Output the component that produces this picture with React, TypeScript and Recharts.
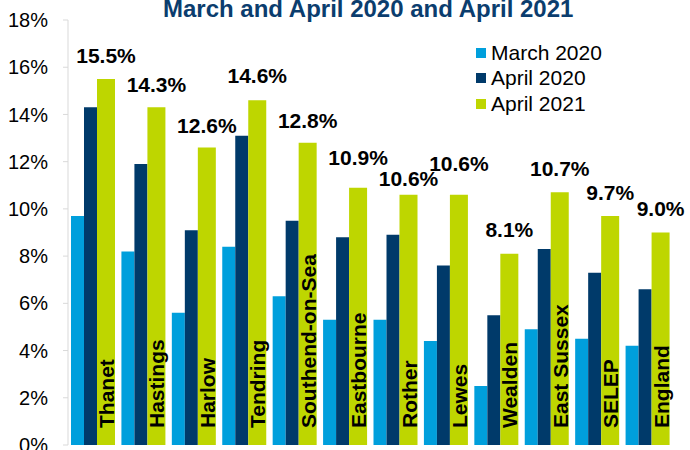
import { Bar, BarChart, LabelList, Legend, XAxis, YAxis } from "recharts";

const FONT = '"Liberation Sans", Arial, sans-serif';

const CATEGORIES = [
  "Thanet",
  "Hastings",
  "Harlow",
  "Tendring",
  "Southend-on-Sea",
  "Eastbourne",
  "Rother",
  "Lewes",
  "Wealden",
  "East Sussex",
  "SELEP",
  "England",
];
const MARCH_2020 = [9.7, 8.2, 5.6, 8.4, 6.3, 5.3, 5.3, 4.4, 2.5, 4.9, 4.5, 4.2];
const APRIL_2020 = [14.3, 11.9, 9.1, 13.1, 9.5, 8.8, 8.9, 7.6, 5.5, 8.3, 7.3, 6.6];
const APRIL_2021 = [15.5, 14.3, 12.6, 14.6, 12.8, 10.9, 10.6, 10.6, 8.1, 10.7, 9.7, 9.0];
const Y_TICKS = [0, 2, 4, 6, 8, 10, 12, 14, 16, 18];

const SERIES = [
  { key: "mar20", name: "March 2020", color: "#009fdc", size: 13 },
  { key: "apr20", name: "April 2020", color: "#003a6a", size: 13 },
  { key: "apr21", name: "April 2021", color: "#bed600", size: 18 },
];

// labels were nudged by hand in the original, px above the bar top
const LABEL_LIFT = [16, 15, 15, 17, 15, 23, 9, 24, 17, 16, 16, 17];

const data = CATEGORIES.map((name, i) => ({
  name,
  mar20: MARCH_2020[i],
  apr20: APRIL_2020[i],
  apr21: APRIL_2021[i],
}));

function ValueLabel(props: any) {
  const vb = props.viewBox ?? props;
  const cx = vb.x + vb.width / 2;
  return (
    <text
      x={cx}
      y={vb.y - LABEL_LIFT[props.index]}
      textAnchor="middle"
      fontSize={21}
      fontWeight="bold"
      fontFamily={FONT}
      fill="#000"
    >
      {Number(props.value).toFixed(1)}%
    </text>
  );
}

function NameLabel(props: any) {
  const vb = props.viewBox ?? props;
  const cx = vb.x + vb.width / 2;
  const by = vb.y + vb.height - 17;
  return (
    <text
      x={cx}
      y={by}
      dy={8}
      transform={`rotate(-90, ${cx}, ${by})`}
      fontSize={21}
      fontWeight="bold"
      fontFamily={FONT}
      fill="#000"
    >
      {props.value}
    </text>
  );
}

function LegendBox() {
  return (
    <div style={{ fontFamily: FONT, fontSize: 21, color: "#000" }}>
      {SERIES.map((s) => (
        <div
          key={s.key}
          style={{ display: "flex", alignItems: "center", height: 25.5, whiteSpace: "nowrap" }}
        >
          <span
            style={{ width: 10, height: 10, background: s.color, marginRight: 5, display: "inline-block" }}
          />
          {s.name}
        </div>
      ))}
    </div>
  );
}

export default function App() {
  return (
    <div
      style={{
        position: "absolute",
        left: 0,
        top: 0,
        width: 690,
        height: 450,
        overflow: "hidden",
        background: "#fff",
        fontFamily: FONT,
      }}
    >
      <BarChart
        width={690}
        height={450}
        data={data}
        margin={{ top: 20, right: 17, bottom: 5, left: 0 }}
        barGap={0}
      >
        <XAxis
          dataKey="name"
          tick={false}
          tickLine={false}
          axisLine={{ stroke: "#d9d9d9" }}
          height={0}
        />
        <YAxis
          domain={[0, 18]}
          ticks={Y_TICKS}
          interval={0}
          width={68}
          tickFormatter={(v) => `${v}%`}
          axisLine={{ stroke: "#d9d9d9" }}
          tickLine={{ stroke: "#d9d9d9" }}
          tickSize={5}
          tickMargin={15}
          tick={{ fontSize: 20, fill: "#000", fontFamily: FONT }}
        />
        <Legend
          verticalAlign="middle"
          align="center"
          layout="horizontal"
          wrapperStyle={{ top: 40, left: 476, width: 200 }}
          content={() => <LegendBox />}
        />
        {SERIES.map((s) => (
          <Bar
            key={s.key}
            dataKey={s.key}
            name={s.name}
            fill={s.color}
            barSize={s.size}
            isAnimationActive={false}
          >
            {s.key === "apr21" && (
              <LabelList dataKey="apr21" content={<ValueLabel />} />
            )}
            {s.key === "apr21" && (
              <LabelList dataKey="name" content={<NameLabel />} />
            )}
          </Bar>
        ))}
      </BarChart>
      <div
        style={{
          position: "absolute",
          top: -3,
          left: 163,
          fontSize: 24,
          lineHeight: "24px",
          fontWeight: "bold",
          color: "#0b3d6e",
          whiteSpace: "nowrap",
        }}
      >
        March and April 2020 and April 2021
      </div>
    </div>
  );
}
